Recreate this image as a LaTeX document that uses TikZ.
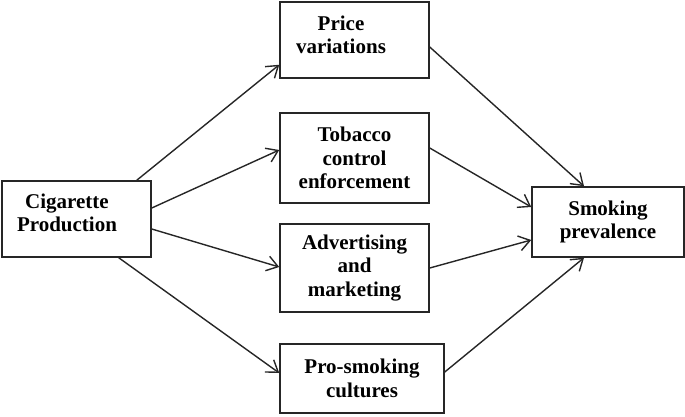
\documentclass[tikz,border=0pt]{standalone}
\usepackage{fontspec}
\setmainfont{Liberation Serif}
\usepackage{tikz}
\usetikzlibrary{positioning, arrows.meta, calc}

\begin{document}
\begin{tikzpicture}[x=1pt, y=-1pt,
        box/.style={draw=black!85, line width=1.5pt, inner sep=0pt},
        txt/.style={font=\fontsize{21}{23.5}\selectfont\bfseries, align=center, inner sep=0pt},
        link/.style={draw=black!85, line width=1.4pt, -{Straight Barb[length=11pt, width=15pt]}}]
        \useasboundingbox (0,0) rectangle (685,416);
        % Source box
        \node[box, minimum width=149pt, minimum height=76pt] (cig) at (76.5,219) {};
        \node[txt] (cigtxt) at (67,213) {Cigarette\\Production};
        % Middle boxes
        \node[box, minimum width=149pt, minimum height=76pt] (price) at (354.5,40) {};
        \node[txt] (pricetxt) at (341,35) {Price\\variations};
        \node[box, txt, minimum width=149pt, minimum height=90pt] (tob) at (354.5,158) {Tobacco\\control\\enforcement};
        \node[box, txt, minimum width=149pt, minimum height=88pt] (adv) at (354.5,268) {Advertising\\and\\marketing};
        \node[box, txt, minimum width=164pt, minimum height=69pt] (pro) at (362,378.5) {Pro-smoking\\cultures};
        % Outcome box
        \node[box, txt, minimum width=152pt, minimum height=70pt] (smoke) at (608,222) {Smoking\\prevalence};
        % Arrows out of production
        \draw[link] ([xshift=-15pt]cig.north east) -- ([yshift=14pt]price.south west);
        \draw[link] ([yshift=11pt]cig.east) -- ([yshift=8pt]tob.west);
        \draw[link] ([yshift=-10pt]cig.east) -- ([yshift=1pt]adv.west);
        \draw[link] ([xshift=-33pt]cig.south east) -- ([yshift=5.5pt]pro.west);
        % Arrows into prevalence
        \draw[link] ([yshift=-7pt]price.east) -- ([xshift=-24pt]smoke.north);
        \draw[link] ([yshift=10pt]tob.east) -- ([yshift=15pt]smoke.west);
        \draw[link] (adv.east) -- ([yshift=-18pt]smoke.west);
        \draw[link] ([yshift=6.5pt]pro.east) -- ([xshift=-24pt]smoke.south);
\end{tikzpicture}
\end{document}
